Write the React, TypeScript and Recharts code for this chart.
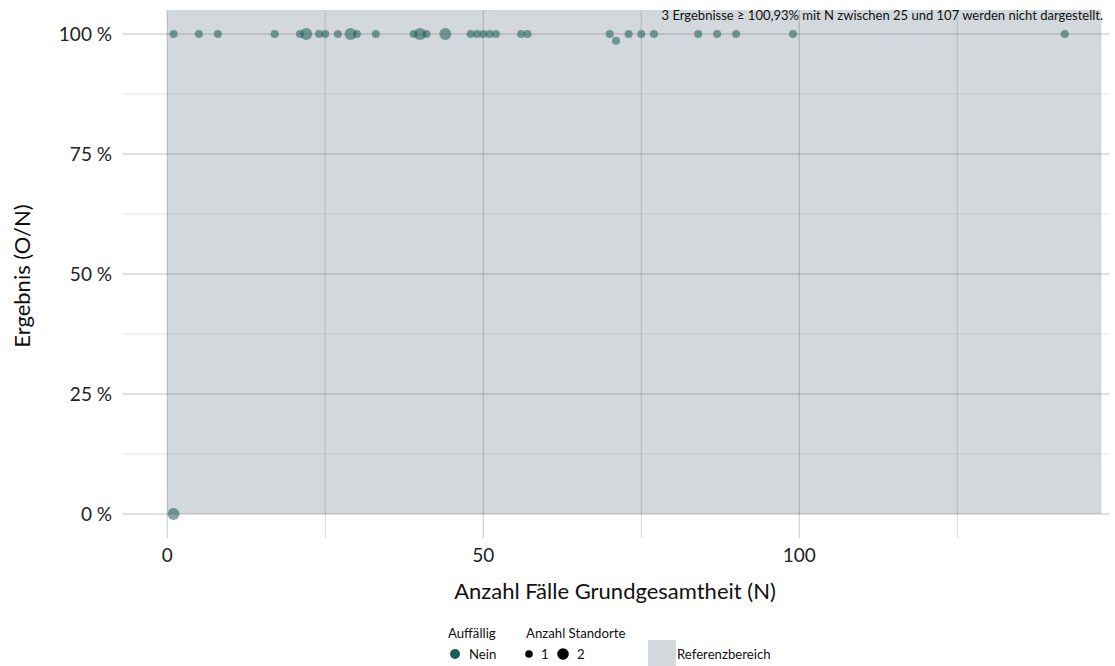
import React from 'react';
import {
  ScatterChart,
  Scatter,
  XAxis,
  YAxis,
  ReferenceArea,
  ReferenceLine,
  Customized,
} from 'recharts';

// ---- data ----
const nValues = [1, 5, 8, 17, 21, 22, 24, 25, 27, 29, 30, 33, 39, 40, 41, 44, 48, 49, 50, 51, 52, 56, 57, 70, 71, 73, 75, 77, 84, 87, 90, 99, 142, 1];
const resultValues = [100, 100, 100, 100, 100, 100, 100, 100, 100, 100, 100, 100, 100, 100, 100, 100, 100, 100, 100, 100, 100, 100, 100, 100, 98.6, 100, 100, 100, 100, 100, 100, 100, 100, 0];
const standorteValues = [1, 1, 1, 1, 1, 2, 1, 1, 1, 2, 1, 1, 1, 2, 1, 2, 1, 1, 1, 1, 1, 1, 1, 1, 1, 1, 1, 1, 1, 1, 1, 1, 1, 2];

const xTicks = [0, 50, 100];
const yTicks = [0, 25, 50, 75, 100];
const xMinorGrid = [25, 75, 125];
const yMinorGrid = [12.5, 37.5, 62.5, 87.5];
const referenceRange = { x1: 0, x2: 147.8, y1: 0.0001, y2: 105 };

const xTitle = 'Anzahl Fälle Grundgesamtheit (N)';
const yTitle = 'Ergebnis (O/N)';
const note = '3 Ergebnisse ≥ 100,93% mit N zwischen 25 und 107 werden nicht dargestellt.';
const legendTitleAuff = 'Auffällig';
const legendNein = 'Nein';
const legendTitleStand = 'Anzahl Standorte';
const legendRef = 'Referenzbereich';

const data = nValues.map((n, i) => ({ n, r: resultValues[i], s: standorteValues[i] }));

const FONT = 'Lato, "Open Sans", sans-serif';
const POINT = '#1b5e55';
const SHADE = '#d3d8dc';
const LEG = 13.2;

const PointShape = (props: any) => {
  const { cx, cy, payload } = props;
  if (cx == null || cy == null) return null;
  const r = payload && payload.s === 2 ? 6 : 4;
  return <circle cx={cx} cy={cy} r={r} fill={POINT} fillOpacity={0.55} />;
};

const Overlay = () => (
  <g fontFamily={FONT}>
    <text x={615} y={599} textAnchor="middle" fontSize={22} fill="#111">{xTitle}</text>
    <text x={30} y={276} textAnchor="middle" fontSize={22} fill="#111" transform="rotate(-90 30 276)">{yTitle}</text>
    {/* legend */}
    <text x={448} y={638} fontSize={LEG} fill="#111">{legendTitleAuff}</text>
    <circle cx={455} cy={654} r={5} fill={POINT} />
    <text x={469} y={658.5} fontSize={LEG} fill="#111">{legendNein}</text>
    <text x={526} y={638} fontSize={LEG} fill="#111">{legendTitleStand}</text>
    <circle cx={529} cy={654} r={3.8} fill="#000" />
    <text x={541} y={658.5} fontSize={LEG} fill="#111">1</text>
    <circle cx={563} cy={654} r={5.8} fill="#000" />
    <text x={577} y={658.5} fontSize={LEG} fill="#111">2</text>
    <rect x={648} y={640} width={28} height={28} fill={SHADE} />
    <text x={677} y={658.5} fontSize={LEG} fill="#111">{legendRef}</text>
  </g>
);

export default function App() {
  return (
    <div style={{ position: 'absolute', left: 0, top: 0, width: 1115, height: 666, background: '#fff' }}>
      <ScatterChart width={1115} height={666} margin={{ top: 10, right: 6, bottom: 0, left: 0 }}>
        <XAxis
          type="number"
          dataKey="n"
          domain={[-7, 149]}
          ticks={xTicks}
          allowDataOverflow
          height={128}
          axisLine={false}
          tickLine={false}
          tickSize={0}
          tickMargin={11}
          tick={{ fontSize: 19, fill: '#222', fontFamily: FONT }}
        />
        <YAxis
          type="number"
          dataKey="r"
          domain={[-5, 105]}
          ticks={yTicks}
          allowDataOverflow
          width={123}
          axisLine={false}
          tickLine={false}
          tickSize={0}
          tickMargin={11}
          tickFormatter={(v: number) => `${v} %`}
          tick={{ fontSize: 19, fill: '#222', fontFamily: FONT }}
        />
        <ReferenceArea
          x1={referenceRange.x1}
          x2={referenceRange.x2}
          y1={referenceRange.y1}
          y2={referenceRange.y2}
          fill={SHADE}
          fillOpacity={1}
          stroke="none"
          ifOverflow="hidden"
        />
        {yMinorGrid.map((v) => (
          <ReferenceLine key={'ym' + v} y={v} stroke="rgba(90,90,90,0.14)" strokeWidth={1} />
        ))}
        {xMinorGrid.map((v) => (
          <ReferenceLine key={'xm' + v} x={v} stroke="rgba(90,90,90,0.2)" strokeWidth={1.2} />
        ))}
        {yTicks.map((v) => (
          <ReferenceLine key={'y' + v} y={v} stroke="rgba(90,90,90,0.25)" strokeWidth={1.4} />
        ))}
        {xTicks.map((v) => (
          <ReferenceLine key={'x' + v} x={v} stroke="rgba(90,90,90,0.25)" strokeWidth={1.4} />
        ))}
        <Scatter data={data} isAnimationActive={false} shape={<PointShape />} />
        <Customized component={Overlay} />
      </ScatterChart>
      <svg
        width={1115}
        height={40}
        style={{ position: 'absolute', left: 0, top: 0, pointerEvents: 'none' }}
      >
        <text x={1103} y={20} textAnchor="end" fontSize={13} fill="#111" fontFamily={FONT}>{note}</text>
      </svg>
    </div>
  );
}
